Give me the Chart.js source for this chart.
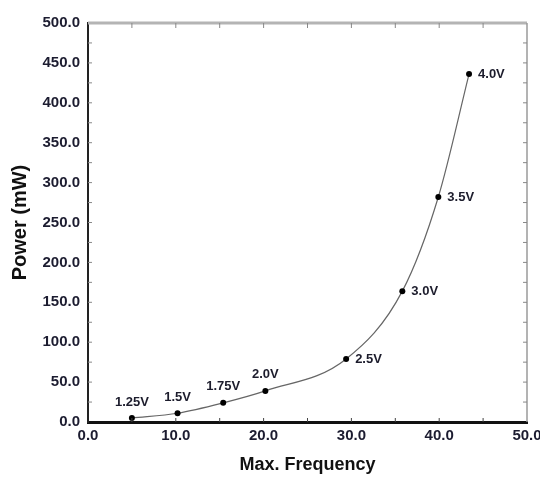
<!DOCTYPE html>
<html>
<head>
<meta charset="utf-8">
<script src="https://cdn.jsdelivr.net/npm/chart.js@4.4.0/dist/chart.umd.min.js"></script>
<style>
  body { margin: 0; background: #fff; }
  #wrap { width: 540px; height: 478px; }
</style>
</head>
<body>
<div id="wrap"><canvas id="chart" width="540" height="478"></canvas></div>
<script>
// values
const freq = [5.0, 10.2, 15.4, 20.2, 29.4, 35.8, 39.9, 43.4];
const power = [5, 11, 24, 39, 79, 164, 282, 436];
const voltLabels = ['1.25V', '1.5V', '1.75V', '2.0V', '2.5V', '3.0V', '3.5V', '4.0V'];
const labelSide = ['top', 'top', 'top', 'top', 'right', 'right', 'right', 'right'];

// voltage labels next to each point
const pointLabels = {
  id: 'pointLabels',
  afterDatasetsDraw(chart) {
    const ctx = chart.ctx;
    const meta = chart.getDatasetMeta(0);
    ctx.save();
    ctx.font = 'bold 13px "Liberation Sans", Arial, sans-serif';
    ctx.fillStyle = '#1c1c2c';
    ctx.textBaseline = 'middle';
    meta.data.forEach((pt, i) => {
      if (labelSide[i] === 'top') {
        ctx.textAlign = 'center';
        ctx.fillText(voltLabels[i], pt.x, pt.y - 16);
      } else {
        ctx.textAlign = 'left';
        ctx.fillText(voltLabels[i], pt.x + 9, pt.y);
      }
    });
    ctx.restore();
  }
};

// top/right border and inward tick marks
const frame = {
  id: 'frame',
  afterDraw(chart) {
    const { ctx, chartArea: a, scales } = chart;
    ctx.save();
    ctx.strokeStyle = '#b4b4b4';
    ctx.lineWidth = 3;
    ctx.beginPath();
    ctx.moveTo(a.left, a.top);
    ctx.lineTo(a.right, a.top);
    ctx.stroke();
    ctx.strokeStyle = '#9a9a9a';
    ctx.lineWidth = 1.5;
    ctx.beginPath();
    ctx.moveTo(a.right, a.top);
    ctx.lineTo(a.right, a.bottom);
    ctx.stroke();

    ctx.lineWidth = 1;
    for (let v = 5; v < 50; v += 5) {
      const x = scales.x.getPixelForValue(v);
      ctx.strokeStyle = '#888';
      ctx.beginPath();
      ctx.moveTo(x, a.top);
      ctx.lineTo(x, a.top + 5);
      ctx.stroke();
      ctx.strokeStyle = '#444';
      ctx.beginPath();
      ctx.moveTo(x, a.bottom);
      ctx.lineTo(x, a.bottom - 4);
      ctx.stroke();
    }
    for (let v = 25; v < 500; v += 25) {
      const y = scales.y.getPixelForValue(v);
      ctx.strokeStyle = '#888';
      ctx.beginPath();
      ctx.moveTo(a.left, y);
      ctx.lineTo(a.left + 4, y);
      ctx.moveTo(a.right, y);
      ctx.lineTo(a.right - 4, y);
      ctx.stroke();
    }
    ctx.restore();
  }
};

const tickFont = { family: '"Liberation Sans", Arial, sans-serif', size: 15, weight: 'bold' };

new Chart(document.getElementById('chart'), {
  type: 'line',
  data: {
    datasets: [{
      data: freq.map((f, i) => ({ x: f, y: power[i] })),
      borderColor: '#666',
      borderWidth: 1.2,
      cubicInterpolationMode: 'monotone',
      pointRadius: 3,
      pointBackgroundColor: '#000',
      pointBorderColor: '#000',
      pointBorderWidth: 0
    }]
  },
  options: {
    responsive: false,
    animation: false,
    devicePixelRatio: 1,
    layout: { padding: { top: 23, right: 13, left: 0, bottom: 0 } },
    plugins: { legend: { display: false }, tooltip: { enabled: false } },
    scales: {
      x: {
        type: 'linear',
        min: 0,
        max: 50,
        grid: { display: false, drawTicks: false },
        border: { display: true, color: '#111', width: 3 },
        ticks: {
          stepSize: 10,
          padding: 5,
          maxRotation: 0,
          color: '#1c1c30',
          font: tickFont,
          callback: (v) => v.toFixed(1)
        },
        title: {
          display: true, text: 'Max. Frequency', color: '#111',
          font: { family: '"Liberation Sans", Arial, sans-serif', size: 18, weight: 'bold' },
          padding: { top: 4, bottom: 2 }
        },
        afterFit(scale) {
          scale.height = 56;
          scale.paddingLeft = 0;
          scale.paddingRight = 0;
        }
      },
      y: {
        min: 0,
        max: 500,
        grid: { display: false, drawTicks: false },
        border: { display: true, color: '#222', width: 2 },
        ticks: {
          stepSize: 50,
          padding: 8,
          color: '#1c1c30',
          font: tickFont,
          callback: (v) => v.toFixed(1)
        },
        title: {
          display: true, text: 'Power (mW)', color: '#111',
          font: { family: '"Liberation Sans", Arial, sans-serif', size: 20, weight: 'bold' },
          padding: { top: 8, bottom: 4 }
        },
        afterFit(scale) {
          scale.width = 88;
          scale.paddingTop = 0;
          scale.paddingBottom = 0;
        }
      }
    }
  },
  plugins: [pointLabels, frame]
});
</script>
</body>
</html>
